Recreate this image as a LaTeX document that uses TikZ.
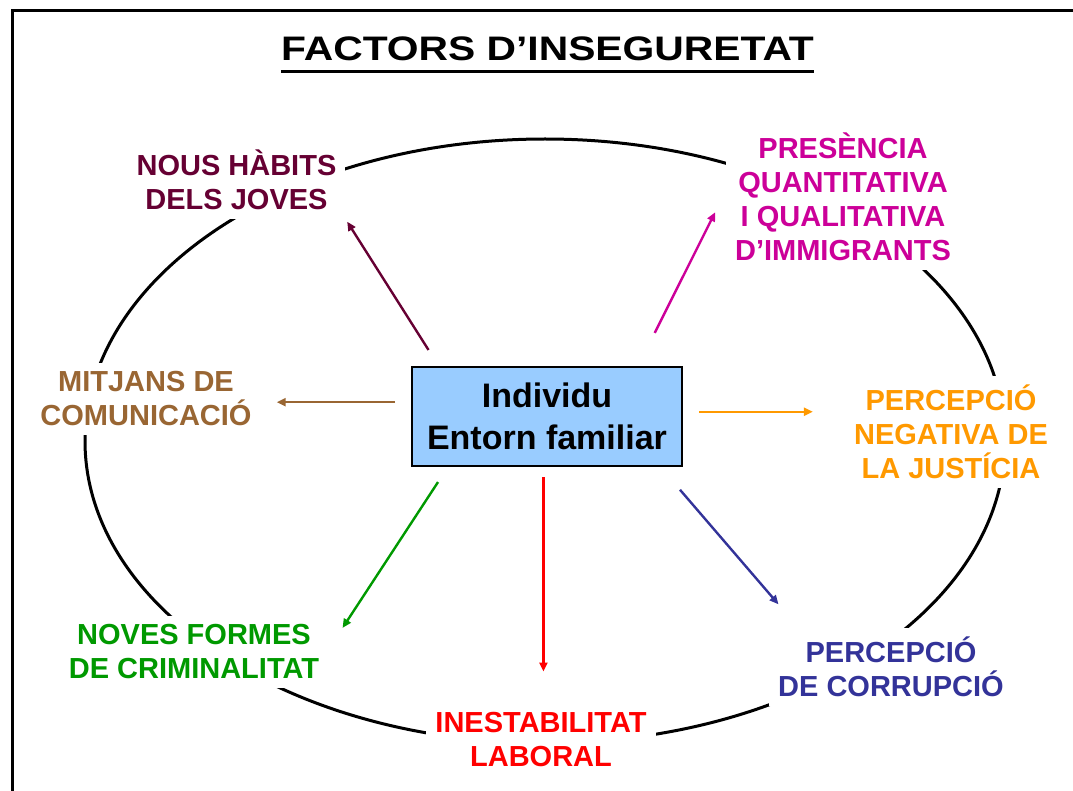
\documentclass[tikz,border=0pt]{standalone}
\usepackage{fontspec}
\setmainfont{Liberation Sans}
\usetikzlibrary{arrows.meta}

\definecolor{habitcol}{HTML}{660033}
\definecolor{immcol}{HTML}{CC0099}
\definecolor{mediacol}{HTML}{996633}
\definecolor{justcol}{HTML}{FF9900}
\definecolor{crimcol}{HTML}{009900}
\definecolor{labcol}{HTML}{FF0000}
\definecolor{corrcol}{HTML}{333399}
\definecolor{boxblue}{HTML}{99CCFF}

\begin{document}
\begin{tikzpicture}[
    x=1pt, y=-1pt,
    box/.style={rectangle, draw, line width=2pt, fill=boxblue, minimum width=270pt, minimum height=99pt, align=center, font=\fontsize{34}{42}\selectfont\bfseries},
    factor/.style={fill=white, inner sep=9pt, align=center, font=\fontsize{29}{34}\selectfont\bfseries},
    arrow/.style={-{Triangle[length=9pt, width=8pt]}, line width=2.4pt},
]
\useasboundingbox (0,0) rectangle (1073,791);

% Frame
\draw[line width=3pt] (1073,11) -- (12,11) -- (12,791);

% Title
\node[inner sep=0pt, font=\fontsize{34}{40}\selectfont\bfseries] (title) at (547.5,49) {\scalebox{1.2}[1]{FACTORS D’INSEGURETAT}};
\draw[line width=3pt] ([yshift=-10pt]title.south west) -- ([yshift=-10pt]title.south east);

% Ring
\draw[line width=3pt] (545,441) ellipse [x radius=460pt, y radius=302pt];

% Centre
\node[box] (box) at (547,416.5) {Individu\\Entorn familiar};

% Factors
\node[factor, text=habitcol] (habits) at (236.5,180) {NOUS HÀBITS\\DELS JOVES};
\node[factor, text=immcol] (immig) at (843,197) {PRESÈNCIA\\QUANTITATIVA\\I QUALITATIVA\\D’IMMIGRANTS};
\node[factor, text=mediacol] (mitjans) at (146,399) {MITJANS DE\\COMUNICACIÓ};
\node[factor, text=justcol] (justicia) at (951,432) {PERCEPCIÓ\\NEGATIVA DE\\LA JUSTÍCIA};
\node[factor, text=crimcol] (crim) at (194,652) {NOVES FORMES\\DE CRIMINALITAT};
\node[factor, text=labcol] (laboral) at (541,740) {INESTABILITAT\\LABORAL};
\node[factor, text=corrcol] (corrup) at (891,667) {PERCEPCIÓ\\DE CORRUPCIÓ};

% Arrows
\draw[arrow, habitcol, shorten <=19pt, shorten >=3pt] (box.155) -- (habits.south east);
\draw[arrow, immcol, shorten <=37pt, shorten >=24pt] (box.29) -- (immig.177);
\draw[arrow, mediacol, shorten <=16pt, shorten >=16pt] (box.174) -- (box.174 -| mitjans.east);
\draw[arrow, justcol, shorten <=16pt, shorten >=32pt] (box.2) -- (box.2 -| justicia.west);
\draw[arrow, crimcol, shorten <=18pt, shorten >=26pt] (box.207) -- (crim.1);
\draw[arrow, labcol, shorten <=10pt, shorten >=32pt] (box.266) -- (box.266 |- laboral.north);
\draw[arrow, corrcol, shorten <=30pt, shorten >=31pt] (box.336.5) -- (corrup.157);

\end{tikzpicture}
\end{document}
